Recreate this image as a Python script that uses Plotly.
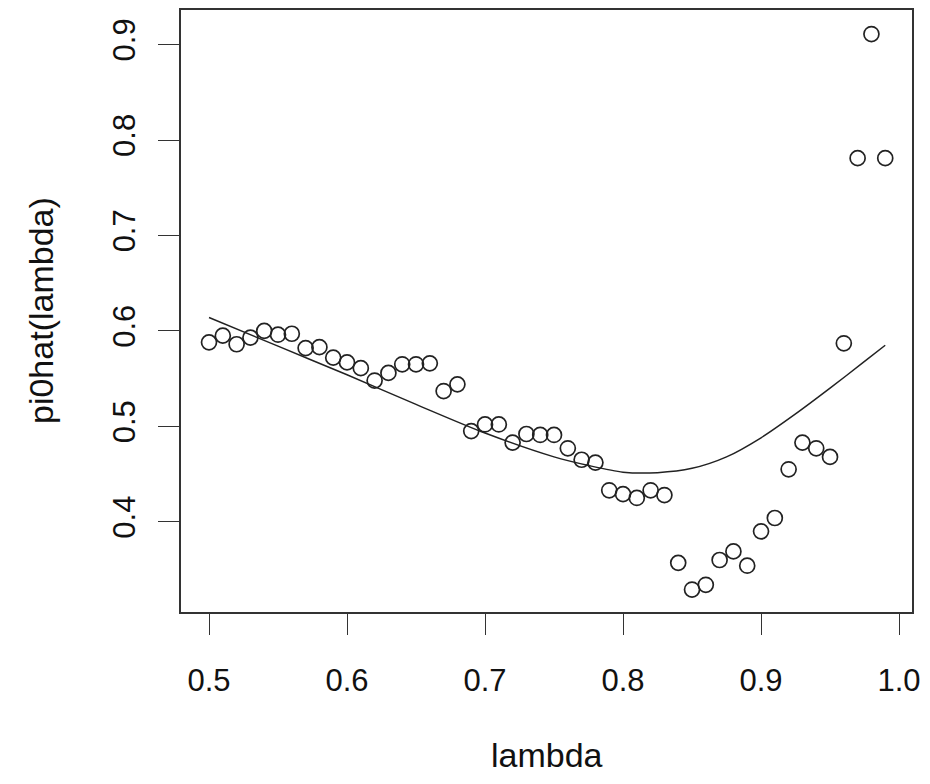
import plotly.graph_objects as go

lambdas = [0.50, 0.51, 0.52, 0.53, 0.54, 0.55, 0.56, 0.57, 0.58, 0.59,
           0.60, 0.61, 0.62, 0.63, 0.64, 0.65, 0.66, 0.67, 0.68, 0.69,
           0.70, 0.71, 0.72, 0.73, 0.74, 0.75, 0.76, 0.77, 0.78, 0.79,
           0.80, 0.81, 0.82, 0.83, 0.84, 0.85, 0.86, 0.87, 0.88, 0.89,
           0.90, 0.91, 0.92, 0.93, 0.94, 0.95, 0.96, 0.97, 0.98, 0.99]
pi0hat = [0.588, 0.595, 0.586, 0.593, 0.600, 0.596, 0.597, 0.582, 0.583, 0.572,
          0.567, 0.561, 0.548, 0.556, 0.565, 0.565, 0.566, 0.537, 0.544, 0.495,
          0.502, 0.502, 0.483, 0.492, 0.491, 0.491, 0.477, 0.465, 0.462, 0.433,
          0.429, 0.425, 0.433, 0.428, 0.357, 0.329, 0.334, 0.360, 0.369, 0.354,
          0.390, 0.404, 0.455, 0.483, 0.477, 0.468, 0.587, 0.781, 0.911, 0.781]

smooth_lambda = [0.50, 0.55, 0.60, 0.65, 0.70, 0.75, 0.775, 0.80, 0.825, 0.85,
                 0.875, 0.90, 0.925, 0.95, 0.975, 0.99]
smooth_pi0 = [0.614, 0.584, 0.554, 0.523, 0.493, 0.468, 0.459, 0.452, 0.4515, 0.456,
              0.468, 0.488, 0.513, 0.540, 0.568, 0.585]

x_ticks = [0.5, 0.6, 0.7, 0.8, 0.9, 1.0]
x_ticklabels = ["0.5", "0.6", "0.7", "0.8", "0.9", "1.0"]
y_ticks = [0.4, 0.5, 0.6, 0.7, 0.8, 0.9]
y_ticklabels = ["0.4", "0.5", "0.6", "0.7", "0.8", "0.9"]

FONT = "Liberation Sans, Arial, sans-serif"

fig = go.Figure()
fig.add_trace(go.Scatter(
    x=lambdas, y=pi0hat, mode="markers",
    marker=dict(symbol="circle-open", size=15, color="#222222", line=dict(width=1.7)),
    showlegend=False, hoverinfo="skip"))
fig.add_trace(go.Scatter(
    x=smooth_lambda, y=smooth_pi0, mode="lines",
    line=dict(color="#222222", width=1.5, shape="spline", smoothing=0.8),
    showlegend=False, hoverinfo="skip"))

axis_common = dict(
    showgrid=False, zeroline=False, showline=True, mirror=True,
    linecolor="#333333", linewidth=1.5,
    ticks="outside", ticklen=21, tickwidth=1.3, tickcolor="#333333",
    tickfont=dict(family=FONT, size=31, color="#111111"),
)

fig.update_layout(
    width=930, height=784,
    margin=dict(l=181, r=18, t=8, b=172),
    paper_bgcolor="white", plot_bgcolor="white",
    xaxis=dict(range=[0.4797, 1.0094], tickvals=x_ticks, ticktext=x_ticklabels,
               ticklabelstandoff=19, **axis_common),
    yaxis=dict(range=[0.3055, 0.9362], tickvals=y_ticks, ticktext=y_ticklabels,
               tickangle=-90, ticklabelstandoff=11, **axis_common),
    annotations=[
        dict(text="lambda", x=0.5, y=0, xref="paper", yref="paper",
             xanchor="center", yanchor="middle", yshift=-143, showarrow=False,
             font=dict(family=FONT, size=34, color="#111111")),
        dict(text="pi0hat(lambda)", x=0, y=0.5, xref="paper", yref="paper",
             xanchor="center", yanchor="middle", xshift=-140, textangle=-90,
             showarrow=False, font=dict(family=FONT, size=34, color="#111111")),
    ],
)

fig.write_html("out.html")
